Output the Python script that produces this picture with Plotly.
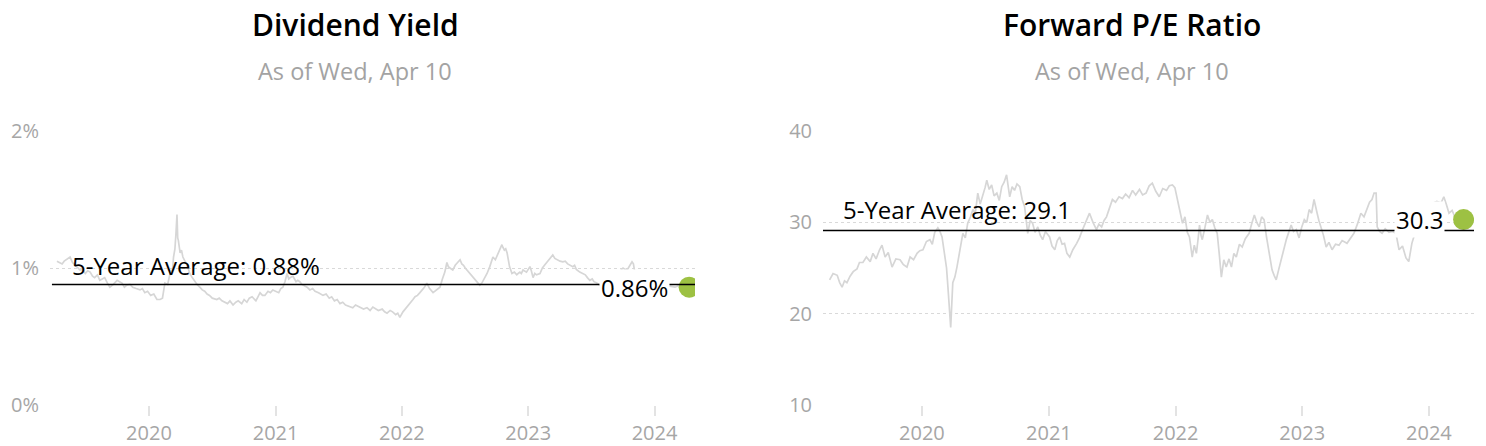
import plotly.graph_objects as go

# ---------------- data ----------------
dy_dates = [
    "2019-04-10","2019-04-18","2019-04-25","2019-05-01","2019-05-08","2019-05-18","2019-05-25","2019-06-01",
    "2019-06-08","2019-06-16","2019-06-24","2019-07-01","2019-07-08","2019-07-15","2019-07-22","2019-07-28",
    "2019-08-05","2019-08-12","2019-08-19","2019-08-26","2019-09-03","2019-09-10","2019-09-20","2019-10-01",
    "2019-10-08","2019-10-15","2019-10-22","2019-10-29","2019-11-07","2019-11-15","2019-11-25","2019-12-06",
    "2019-12-13","2019-12-20","2019-12-28","2020-01-06","2020-01-15","2020-01-24","2020-02-02","2020-02-09",
    "2020-02-16","2020-02-24","2020-03-02","2020-03-09","2020-03-12","2020-03-16","2020-03-19","2020-03-22",
    "2020-03-24","2020-03-26","2020-03-31","2020-04-04","2020-04-08","2020-04-13","2020-04-18","2020-04-23",
    "2020-04-28","2020-05-05","2020-05-12","2020-05-19","2020-05-27","2020-06-03","2020-06-10","2020-06-17",
    "2020-06-24","2020-07-02","2020-07-15","2020-07-22","2020-07-30","2020-08-07","2020-08-15","2020-08-22",
    "2020-08-31","2020-09-08","2020-09-15","2020-09-25","2020-10-02","2020-10-10","2020-10-17","2020-10-25",
    "2020-11-05","2020-11-11","2020-11-17","2020-11-24","2020-12-01","2020-12-10","2020-12-17","2020-12-24",
    "2021-01-03","2021-01-10","2021-01-16","2021-01-22","2021-01-28","2021-02-03","2021-02-08","2021-02-12",
    "2021-02-20","2021-03-01","2021-03-06","2021-03-12","2021-03-18","2021-03-25","2021-04-02","2021-04-10",
    "2021-04-18","2021-04-25","2021-05-05","2021-05-18","2021-05-27","2021-06-05","2021-06-12","2021-06-20",
    "2021-06-28","2021-07-06","2021-07-14","2021-07-22","2021-08-01","2021-08-12","2021-08-20","2021-08-28",
    "2021-09-05","2021-09-12","2021-09-22","2021-10-01","2021-10-09","2021-10-17","2021-10-25","2021-11-05",
    "2021-11-12","2021-11-19","2021-11-28","2021-12-05","2021-12-14","2021-12-20","2021-12-26","2022-01-04",
    "2022-01-11","2022-01-18","2022-01-25","2022-02-02","2022-02-08","2022-02-15","2022-02-22","2022-03-01",
    "2022-03-07","2022-03-14","2022-03-22","2022-04-01","2022-04-10","2022-04-21","2022-04-28","2022-05-05",
    "2022-05-11","2022-05-15","2022-05-20","2022-05-28","2022-06-04","2022-06-11","2022-06-18","2022-06-23",
    "2022-06-28","2022-07-03","2022-07-08","2022-07-15","2022-07-22","2022-07-29","2022-08-06","2022-08-14",
    "2022-08-20","2022-08-25","2022-08-30","2022-09-04","2022-09-12","2022-09-21","2022-09-28","2022-10-05",
    "2022-10-11","2022-10-17","2022-10-20","2022-10-24","2022-10-28","2022-11-01","2022-11-08","2022-11-15",
    "2022-11-22","2022-11-29","2022-12-03","2022-12-08","2022-12-12","2022-12-17","2022-12-27","2023-01-06",
    "2023-01-10","2023-01-15","2023-01-20","2023-01-25","2023-02-04","2023-02-11","2023-02-17","2023-02-24",
    "2023-03-03","2023-03-08","2023-03-13","2023-03-19","2023-03-25","2023-04-03","2023-04-11","2023-04-18",
    "2023-04-25","2023-05-03","2023-05-10","2023-05-15","2023-05-20","2023-05-30","2023-06-07","2023-06-15",
    "2023-06-21","2023-06-28","2023-07-05","2023-07-10","2023-07-18","2023-07-27","2023-08-10","2023-08-25",
    "2023-09-05","2023-09-12","2023-09-17","2023-09-24","2023-10-02","2023-10-08","2023-10-15","2023-10-22",
    "2023-10-28","2023-11-01","2023-11-05","2023-11-20","2023-12-04","2023-12-20","2024-01-17","2024-02-05",
    "2024-02-29","2024-03-10","2024-03-20","2024-04-10",
]
dy_values = [
    1.05,1.04,1.03,1.05,1.06,1.08,1.04,1.02,
    1.00,0.985,0.99,0.96,0.98,0.97,0.94,0.93,
    0.95,0.91,0.92,0.93,0.89,0.86,0.88,0.91,
    0.90,0.89,0.86,0.875,0.88,0.86,0.85,0.84,
    0.85,0.82,0.83,0.80,0.81,0.77,0.77,0.78,
    0.89,0.88,0.96,0.98,1.08,1.14,1.25,1.39,
    1.22,1.20,1.11,1.13,1.08,1.06,1.03,1.00,
    0.96,0.93,0.90,0.88,0.86,0.84,0.83,0.81,
    0.80,0.78,0.77,0.78,0.76,0.75,0.74,0.76,
    0.73,0.75,0.76,0.74,0.77,0.75,0.78,0.79,
    0.76,0.79,0.82,0.80,0.80,0.83,0.82,0.84,
    0.83,0.82,0.85,0.86,0.90,0.96,0.92,0.93,
    0.94,0.90,0.91,0.90,0.88,0.87,0.86,0.84,
    0.85,0.83,0.82,0.80,0.81,0.78,0.79,0.76,
    0.77,0.74,0.75,0.73,0.72,0.71,0.73,0.72,
    0.71,0.70,0.71,0.69,0.715,0.70,0.69,0.70,
    0.68,0.67,0.69,0.68,0.66,0.67,0.64,0.68,
    0.70,0.72,0.74,0.77,0.79,0.80,0.82,0.84,
    0.86,0.89,0.85,0.82,0.84,0.86,0.92,0.97,
    1.04,1.01,1.00,0.985,1.02,1.04,1.06,1.03,
    1.02,1.00,0.985,0.97,0.95,0.93,0.90,0.875,
    0.89,0.91,0.93,0.96,1.01,1.08,1.06,1.10,
    1.13,1.17,1.15,1.13,1.14,1.11,1.01,0.96,
    0.97,0.95,0.96,0.97,0.96,0.985,0.97,1.01,
    0.98,0.93,0.96,0.95,0.96,1.00,1.02,1.04,
    1.06,1.08,1.095,1.07,1.06,1.05,1.045,1.05,
    1.03,1.02,1.01,1.02,0.99,0.97,0.96,0.95,
    0.93,0.91,0.92,0.90,0.89,0.875,0.86,0.90,
    0.93,0.95,0.96,0.98,1.00,0.99,0.99,1.02,
    1.045,1.03,0.97,0.92,0.90,0.88,0.88,0.87,
    0.86,0.87,0.87,0.86,
]
dy_avg = 0.88
dy_current = 0.86

pe_dates = [
    "2019-04-10","2019-04-20","2019-05-02","2019-05-09","2019-05-16","2019-05-23","2019-05-30","2019-06-08",
    "2019-06-17","2019-06-28","2019-07-05","2019-07-15","2019-07-25","2019-08-05","2019-08-13","2019-08-22",
    "2019-09-01","2019-09-08","2019-09-17","2019-09-26","2019-10-07","2019-10-18","2019-10-30","2019-11-08",
    "2019-11-19","2019-11-28","2019-12-08","2019-12-18","2019-12-26","2020-01-04","2020-01-14","2020-01-24",
    "2020-01-31","2020-02-07","2020-02-16","2020-02-22","2020-02-28","2020-03-07","2020-03-12","2020-03-16",
    "2020-03-20","2020-03-24","2020-03-30","2020-04-05","2020-04-11","2020-04-19","2020-04-28","2020-05-05",
    "2020-05-12","2020-05-20","2020-05-27","2020-06-03","2020-06-10","2020-06-17","2020-06-24","2020-07-01",
    "2020-07-06","2020-07-13","2020-07-20","2020-07-27","2020-08-04","2020-08-11","2020-08-18","2020-08-25",
    "2020-09-01","2020-09-05","2020-09-10","2020-09-17","2020-09-24","2020-10-01","2020-10-09","2020-10-16",
    "2020-10-23","2020-11-01","2020-11-08","2020-11-15","2020-11-22","2020-11-30","2020-12-07","2020-12-14",
    "2020-12-22","2021-01-03","2021-01-10","2021-01-18","2021-01-25","2021-02-01","2021-02-08","2021-02-15",
    "2021-02-22","2021-03-02","2021-03-11","2021-03-22","2021-03-30","2021-04-08","2021-04-18","2021-04-28",
    "2021-05-08","2021-05-18","2021-05-25","2021-06-02","2021-06-09","2021-06-16","2021-06-24","2021-07-03",
    "2021-07-12","2021-07-22","2021-08-01","2021-08-10","2021-08-20","2021-08-30","2021-09-08","2021-09-19",
    "2021-09-28","2021-10-08","2021-10-17","2021-10-26","2021-11-05","2021-11-15","2021-11-25","2021-12-06",
    "2021-12-14","2021-12-23","2021-12-30","2022-01-06","2022-01-14","2022-01-21","2022-01-28","2022-02-04",
    "2022-02-10","2022-02-18","2022-02-24","2022-03-02","2022-03-07","2022-03-11","2022-03-15","2022-03-19",
    "2022-03-27","2022-04-03","2022-04-10","2022-04-17","2022-04-24","2022-05-01","2022-05-07","2022-05-13",
    "2022-05-20","2022-05-27","2022-06-04","2022-06-11","2022-06-18","2022-06-25","2022-07-04","2022-07-12",
    "2022-07-21","2022-08-01","2022-08-08","2022-08-16","2022-08-23","2022-08-30","2022-09-06","2022-09-13",
    "2022-09-20","2022-09-28","2022-10-06","2022-10-12","2022-10-18","2022-10-25","2022-11-01","2022-11-09",
    "2022-11-16","2022-11-23","2022-11-30","2022-12-07","2022-12-15","2022-12-23","2022-12-30","2023-01-07",
    "2023-01-14","2023-01-21","2023-01-28","2023-02-04","2023-02-09","2023-02-13","2023-02-18","2023-02-24",
    "2023-03-03","2023-03-11","2023-03-19","2023-03-28","2023-04-07","2023-04-17","2023-04-26","2023-05-10",
    "2023-05-20","2023-05-30","2023-06-09","2023-06-19","2023-06-28","2023-07-07","2023-07-14","2023-07-21",
    "2023-07-27","2023-08-02","2023-08-05","2023-08-12","2023-08-19","2023-08-28","2023-09-08","2023-09-18",
    "2023-09-28","2023-10-07","2023-10-17","2023-10-27","2023-11-04","2023-11-13","2023-11-25","2023-12-09",
    "2023-12-23","2024-01-07","2024-01-24","2024-02-05","2024-02-13","2024-02-20","2024-02-28","2024-03-08",
    "2024-03-19","2024-03-28","2024-04-10",
]
pe_values = [
    23.7,24.4,24.2,23.4,22.9,23.6,23.4,24.1,
    24.6,24.9,25.6,25.6,26.2,25.7,26.6,26.0,
    27.0,27.5,26.2,26.7,25.1,26.0,25.9,25.4,
    25.1,26.2,25.9,26.6,26.9,27.0,27.9,28.1,
    27.6,28.9,29.4,29.0,28.4,26.6,25.0,22.9,
    20.5,18.5,23.4,24.0,25.1,27.0,28.8,28.3,
    29.9,30.6,31.4,31.0,33.2,32.0,32.8,33.8,
    34.6,33.6,34.1,32.9,33.2,32.4,33.9,34.4,
    35.2,34.0,32.8,33.9,33.5,34.2,33.9,32.5,
    31.7,28.8,30.2,29.9,28.9,29.5,28.6,28.1,
    29.0,28.4,27.4,27.0,28.0,28.4,27.6,27.7,
    26.6,26.2,27.0,27.7,28.3,29.2,30.1,31.0,
    30.0,29.2,29.8,29.5,30.2,30.6,31.5,32.5,
    32.2,32.8,32.6,33.1,32.7,33.5,33.0,33.6,
    33.0,33.2,34.0,34.3,33.4,32.8,33.7,33.5,
    34.0,34.1,33.8,32.5,31.0,29.9,30.6,28.9,
    28.4,26.2,27.5,26.6,28.2,29.7,28.6,28.1,
    29.5,30.8,30.0,30.3,29.4,28.8,26.5,24.0,
    25.9,25.1,26.0,25.1,26.6,26.2,27.6,27.3,
    28.2,28.8,29.8,30.8,30.0,29.5,30.6,30.3,
    28.4,26.6,24.8,24.2,23.7,24.8,25.9,27.0,
    28.1,28.9,29.7,29.0,29.2,28.3,29.4,30.3,
    30.0,31.4,31.0,32.5,31.8,31.0,30.2,29.5,
    28.6,27.3,27.8,27.0,27.6,27.5,28.0,27.7,
    28.2,28.8,29.8,31.0,30.6,31.4,32.2,32.5,
    33.2,33.2,29.5,29.0,28.8,29.3,28.9,29.0,
    28.8,27.0,27.4,26.1,25.7,27.7,29.2,30.5,
    31.4,32.0,32.3,32.1,32.8,32.0,31.0,31.3,
    30.3,30.6,30.3,
]
pe_avg = 29.1
pe_current = 30.3

titles = ["Dividend Yield", "Forward P/E Ratio"]
subtitle = "As of Wed, Apr 10"
year_ticks = ["2020-01-01", "2021-01-01", "2022-01-01", "2023-01-01", "2024-01-01"]
year_labels = ["2020", "2021", "2022", "2023", "2024"]
dy_ticks = [0, 1, 2]
dy_tick_labels = ["0%", "1%", "2%"]
pe_ticks = [10, 20, 30, 40]
pe_tick_labels = ["10", "20", "30", "40"]

# ---------------- styling ----------------
W, H = 1486, 446
FONT = "Open Sans"
GRAY_LINE = "#d6d6d6"
GRID = "#d9d9d9"
TICK_TXT = "#a6a6a6"
GREEN = "#9dc143"

fig = go.Figure()

fig.add_trace(go.Scatter(x=dy_dates, y=dy_values, mode="lines",
                         line=dict(color=GRAY_LINE, width=1.7), xaxis="x", yaxis="y",
                         hoverinfo="skip", showlegend=False))
fig.add_trace(go.Scatter(x=[dy_dates[-1]], y=[dy_current], mode="markers",
                         marker=dict(color=GREEN, size=21), xaxis="x", yaxis="y",
                         showlegend=False))
fig.add_trace(go.Scatter(x=pe_dates, y=pe_values, mode="lines",
                         line=dict(color=GRAY_LINE, width=1.7), xaxis="x2", yaxis="y2",
                         hoverinfo="skip", showlegend=False))
fig.add_trace(go.Scatter(x=[pe_dates[-1]], y=[pe_current], mode="markers",
                         marker=dict(color=GREEN, size=21), xaxis="x2", yaxis="y2",
                         showlegend=False))

ydom = [41 / H, 315 / H]
xaxis_common = dict(
    type="date", showgrid=False, zeroline=False, showline=False, automargin=False,
    tickvals=year_ticks, ticktext=year_labels,
    ticks="outside", ticklen=10, tickwidth=2, tickcolor="#e3e3e3",
    tickfont=dict(family=FONT, size=20, color=TICK_TXT),
    fixedrange=True,
)
yaxis_common = dict(
    showgrid=True, gridcolor=GRID, griddash="dot", gridwidth=1, automargin=False,
    zeroline=False, showline=False, ticks="",
    tickfont=dict(family=FONT, size=20, color=TICK_TXT),
    ticklabelstandoff=10, fixedrange=True,
)

fig.update_layout(
    width=W, height=H,
    margin=dict(l=0, r=0, t=0, b=0, autoexpand=False),
    paper_bgcolor="white", plot_bgcolor="white",
    showlegend=False,
    xaxis=dict(domain=[50 / W, 695 / W], range=["2019-03-21", "2024-04-27"], anchor="y", **xaxis_common),
    yaxis=dict(domain=ydom, range=[0, 2], tickvals=dy_ticks, ticktext=dy_tick_labels, anchor="x", **yaxis_common),
    xaxis2=dict(domain=[823 / W, 1474 / W], range=["2019-03-22", "2024-05-10"], anchor="y2", **xaxis_common),
    yaxis2=dict(domain=ydom, range=[10, 40], tickvals=pe_ticks, ticktext=pe_tick_labels, anchor="x2", **yaxis_common),
)

# average lines
fig.add_shape(type="line", xref="x domain", yref="y", x0=0.003, x1=1, y0=dy_avg, y1=dy_avg,
              line=dict(color="black", width=1.6))
fig.add_shape(type="line", xref="x2 domain", yref="y2", x0=0, x1=1, y0=pe_avg, y1=pe_avg,
              line=dict(color="black", width=1.6))

ann = []
# titles
for cx, t in zip([355 / W, 1132 / W], titles):
    ann.append(dict(x=cx, y=1 - 24 / H, xref="paper", yref="paper", text=t, showarrow=False,
                    xanchor="center", yanchor="middle",
                    font=dict(family=FONT, size=30, color="black", weight=600)))
    ann.append(dict(x=cx, y=1 - 71 / H, xref="paper", yref="paper", text=subtitle, showarrow=False,
                    xanchor="center", yanchor="middle",
                    font=dict(family=FONT, size=23.5, color="#a3a3a3")))

# average labels
ann.append(dict(x=70 / W, y=dy_avg, xref="paper", yref="y", text=f"5-Year Average: {dy_avg:.2f}%",
                showarrow=False, xanchor="left", yanchor="bottom", yshift=0,
                font=dict(family=FONT, size=24, color="black")))
ann.append(dict(x=841 / W, y=pe_avg, xref="paper", yref="y2", text=f"5-Year Average: {pe_avg:.1f}",
                showarrow=False, xanchor="left", yanchor="bottom", yshift=3,
                font=dict(family=FONT, size=24, color="black")))

# current value labels
ann.append(dict(x=dy_dates[-1], y=dy_current, xref="x", yref="y", text=f"{dy_current:.2f}%",
                showarrow=False, xanchor="right", yanchor="middle", xshift=-19,
                bgcolor="white", borderpad=1,
                font=dict(family=FONT, size=24, color="black")))
ann.append(dict(x=pe_dates[-1], y=pe_current, xref="x2", yref="y2", text=f"{pe_current:.1f}",
                showarrow=False, xanchor="right", yanchor="middle", xshift=-19,
                bgcolor="white", borderpad=1,
                font=dict(family=FONT, size=24, color="black")))

fig.update_layout(annotations=ann)

fig.write_html(
    "out.html",
    config={"displayModeBar": False, "staticPlot": True},
    post_script="document.body.style.margin='0';document.body.style.padding='0';"
                "document.body.style.overflow='hidden';",
)
